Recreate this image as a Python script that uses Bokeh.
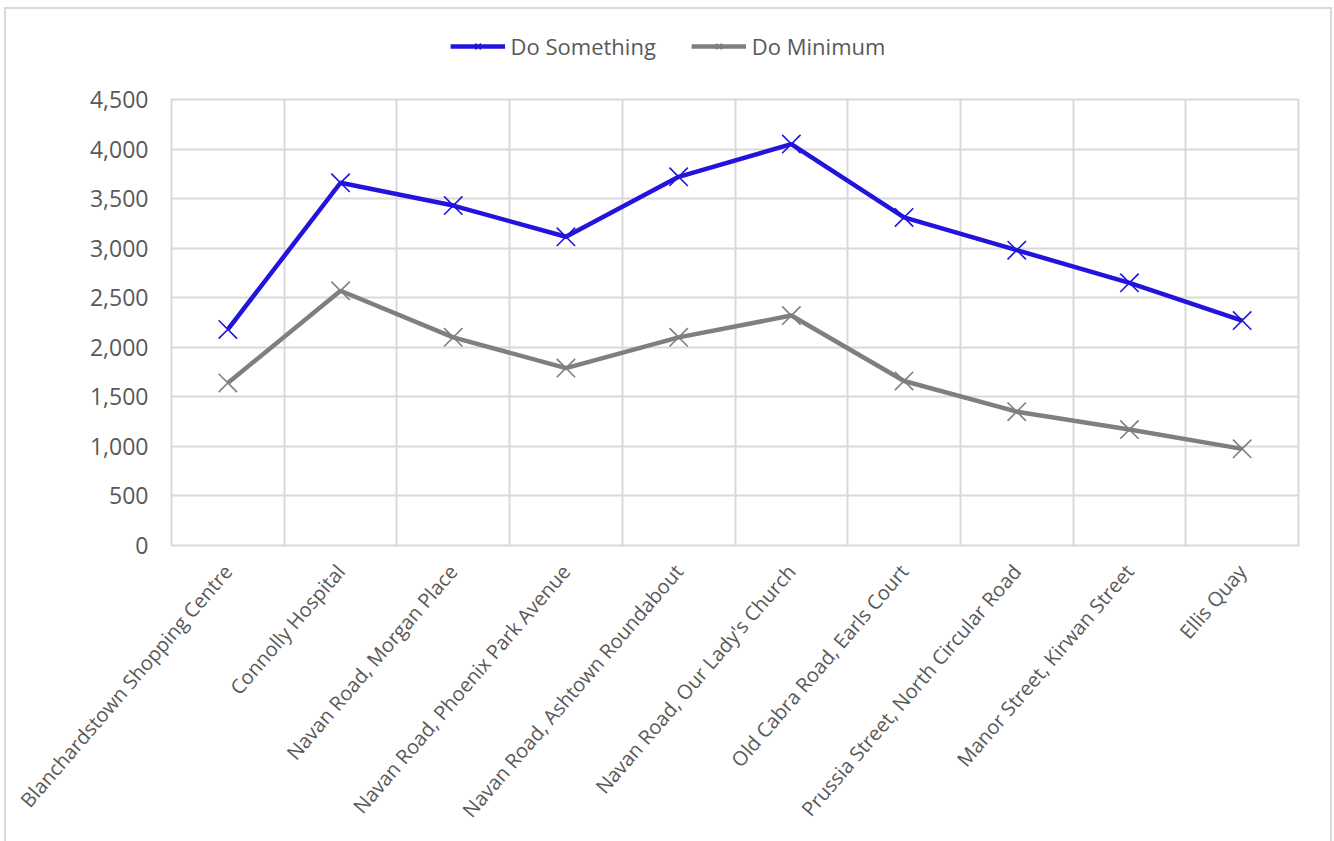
from bokeh.plotting import figure
from bokeh.layouts import column
from bokeh.models import FixedTicker, Legend, LegendItem, Range1d, NumeralTickFormatter
from bokeh.embed import file_html
from bokeh.resources import INLINE

# Bus stop locations along the route
stops = [
    "Blanchardstown Shopping Centre",
    "Connolly Hospital",
    "Navan Road, Morgan Place",
    "Navan Road, Phoenix Park Avenue",
    "Navan Road, Ashtown Roundabout",
    "Navan Road, Our Lady's Church",
    "Old Cabra Road, Earls Court",
    "Prussia Street, North Circular Road",
    "Manor Street, Kirwan Street",
    "Ellis Quay",
]
series_names = ["Do Something", "Do Minimum"]
do_something = [2180, 3660, 3430, 3115, 3720, 4050, 3310, 2980, 2650, 2270]
do_minimum = [1640, 2570, 2100, 1790, 2100, 2320, 1660, 1350, 1170, 975]
y_ticks = [0, 500, 1000, 1500, 2000, 2500, 3000, 3500, 4000, 4500]

BLUE = "#2214dc"
GREY = "#7f7f7f"
TEXT = "#595959"
GRID = "#d9d9d9"
FONT = "Open Sans"
colors = [BLUE, GREY]

xs = [i + 0.5 for i in range(len(stops))]

# ---- main chart ----
p = figure(
    frame_width=1127, frame_height=446,
    min_border_left=165, min_border_right=32,
    min_border_top=16, min_border_bottom=296,
    x_range=Range1d(0, len(stops)), y_range=Range1d(0, 4500),
    output_backend="svg", toolbar_location=None,
)
p.background_fill_color = "white"
p.border_fill_color = "white"
p.outline_line_color = GRID
p.outline_line_width = 2

# gridlines between categories and at every 500
p.xgrid.ticker = FixedTicker(ticks=list(range(len(stops) + 1)))
p.ygrid.ticker = FixedTicker(ticks=y_ticks)
for g in (p.xgrid, p.ygrid):
    g.grid_line_color = GRID
    g.grid_line_width = 2

p.xaxis.ticker = FixedTicker(ticks=xs)
p.xaxis.major_label_overrides = {x: s for x, s in zip(xs, stops)}
p.xaxis.major_label_orientation = 0.86
p.yaxis.ticker = FixedTicker(ticks=y_ticks)
p.yaxis.formatter = NumeralTickFormatter(format="0,0")
for ax in (p.xaxis, p.yaxis):
    ax.axis_line_color = None
    ax.major_tick_line_color = None
    ax.minor_tick_line_color = None
    ax.major_label_text_color = TEXT
    ax.major_label_text_font = FONT
p.xaxis.major_label_text_font_size = "20px"
p.yaxis.major_label_text_font_size = "23px"
p.xaxis.major_label_standoff = 16
p.yaxis.major_label_standoff = 17

for vals, c in zip([do_something, do_minimum], colors):
    p.line(xs, vals, line_color=c, line_width=4.5)
    p.scatter(xs, vals, marker="x", size=26, line_color=c, line_width=1.6)

# ---- legend strip above the chart ----
lg = figure(
    width=p.frame_width + p.min_border_left + p.min_border_right, height=74,
    min_border_left=0, min_border_top=0, min_border_bottom=0, min_border_right=166,
    x_range=Range1d(0, 1), y_range=Range1d(0, 1),
    output_backend="svg", toolbar_location=None,
)
lg.axis.visible = False
lg.grid.visible = False
lg.outline_line_color = None
items = []
for name, c in zip(series_names, colors):
    # single off-screen point, only used to style the legend swatch
    ln = lg.line([-5, -4], [-5, -5], line_color=c, line_width=4.5)
    mk = lg.scatter([-5], [-5], marker="x", size=12, line_color=c, line_width=1.6)
    items.append(LegendItem(label=name, renderers=[ln, mk]))
legend = Legend(
    items=items, location="center", orientation="horizontal",
    glyph_width=55, glyph_height=20, label_height=20,
    label_standoff=6, spacing=35, padding=0, margin=0,
    border_line_color=None, background_fill_alpha=0,
    label_text_font=FONT, label_text_font_size="22px", label_text_color=TEXT,
)
lg.add_layout(legend, "center")

page = column(lg, p, spacing=0,
              styles={"margin-left": "4px", "margin-top": "7px",
                      "border": "2px solid #d9d9d9", "background": "white"})

open("out.html", "w").write(file_html(page, INLINE))
